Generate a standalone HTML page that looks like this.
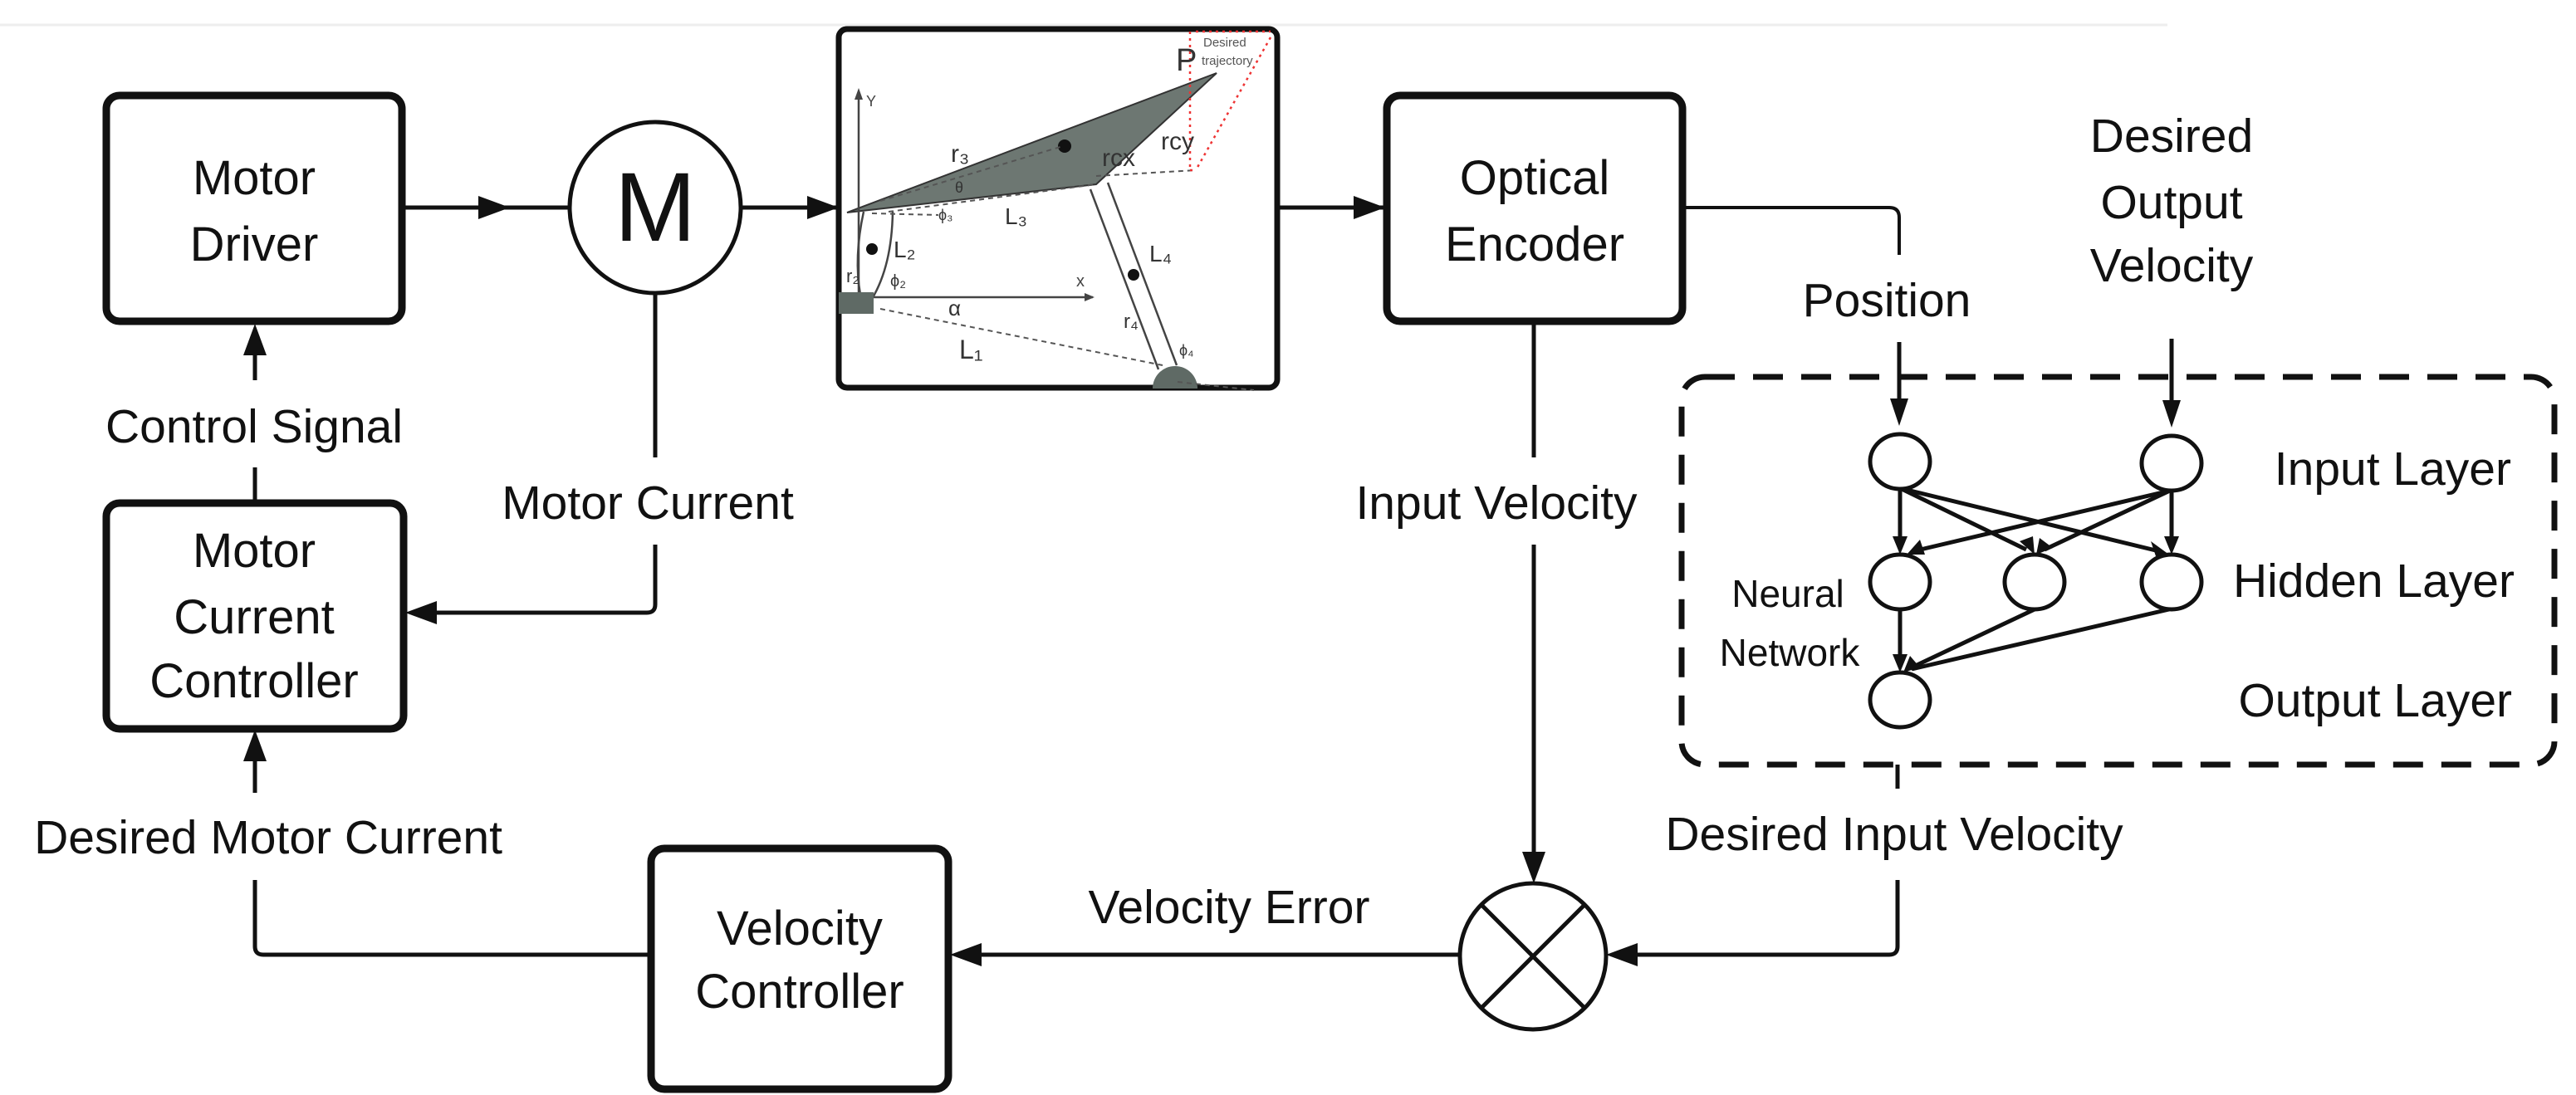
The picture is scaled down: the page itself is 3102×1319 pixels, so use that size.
<!DOCTYPE html>
<html><head><meta charset="utf-8"><style>
html,body{margin:0;padding:0;background:#fff;}
svg{display:block;}
text{font-family:"Liberation Sans",sans-serif;fill:#111;}
</style></head><body>
<svg width="3102" height="1319" viewBox="0 0 3102 1319" xmlns="http://www.w3.org/2000/svg">
<line x1="0" y1="30" x2="2610" y2="30" stroke="#eee" stroke-width="3"/>

<g fill="none" stroke="#111" stroke-width="9">
<rect x="128" y="115" width="356" height="272" rx="16"/>
<rect x="128" y="606" width="358" height="272" rx="16"/>
<rect x="1670" y="115" width="356" height="272" rx="16"/>
<rect x="784" y="1022" width="358" height="290" rx="16"/>
</g>
<rect x="1010" y="35" width="528" height="432" rx="10" fill="none" stroke="#111" stroke-width="7"/>

<g stroke="#111" stroke-width="5" fill="none">
<circle cx="789" cy="250" r="103"/>
<circle cx="1846" cy="1152" r="88"/>
<line x1="1784" y1="1090" x2="1908" y2="1214"/>
<line x1="1908" y1="1090" x2="1784" y2="1214"/>
<line x1="484" y1="250" x2="686" y2="250"/>
<line x1="892" y1="250" x2="1010" y2="250"/>
<line x1="1538" y1="250" x2="1668" y2="250"/>
<path d="M2026 250 H2275 Q2287 250 2287 262 V307" stroke-width="4"/>
<line x1="2287" y1="412" x2="2287" y2="500"/>
<line x1="2615" y1="408" x2="2615" y2="500"/>
<line x1="307" y1="563" x2="307" y2="606"/>
<line x1="307" y1="458" x2="307" y2="400"/>
<path d="M789 353 V551"/>
<path d="M789 656 V728 Q789 738 779 738 H500"/>
<line x1="307" y1="955" x2="307" y2="890"/>
<path d="M307 1060 V1140 Q307 1150 317 1150 H784"/>
<line x1="1847" y1="387" x2="1847" y2="551"/>
<line x1="1847" y1="656" x2="1847" y2="1050"/>
<line x1="1758" y1="1150" x2="1158" y2="1150"/>
<line x1="2285" y1="921" x2="2285" y2="950"/>
<path d="M2285 1060 V1140 Q2285 1150 2275 1150 H1948"/>
</g>
<g fill="#111">
<polygon points="614,250 576,236 576,264"/>
<polygon points="1010,250 972,236 972,264"/>
<polygon points="1668,250 1630,236 1630,264"/>
<polygon points="307,390 293,428 321,428"/>
<polygon points="488,738 526,724 526,752"/>
<polygon points="307,879 293,917 321,917"/>
<polygon points="1847,1064 1833,1026 1861,1026"/>
<polygon points="1144,1150 1182,1136 1182,1164"/>
<polygon points="1934,1150 1972,1136 1972,1164"/>
<polygon points="2287,513 2276,480 2298,480"/>
<polygon points="2615,515 2604,482 2626,482"/>
</g>

<rect x="2025" y="454" width="1051" height="467" rx="28" fill="none" stroke="#111" stroke-width="7" stroke-dasharray="36,22"/>

<g stroke="#111" stroke-width="5" fill="none">
<ellipse cx="2288" cy="556" rx="36" ry="33"/>
<ellipse cx="2615" cy="558" rx="36" ry="33"/>
<ellipse cx="2288" cy="701" rx="36" ry="33"/>
<ellipse cx="2450" cy="701" rx="36" ry="33"/>
<ellipse cx="2615" cy="701" rx="36" ry="33"/>
<ellipse cx="2288" cy="843" rx="36" ry="33"/>
<line x1="2288" y1="589" x2="2288" y2="660"/>
<line x1="2290" y1="589" x2="2440" y2="662"/>
<line x1="2292" y1="589" x2="2600" y2="664"/>
<line x1="2613" y1="591" x2="2304" y2="664"/>
<line x1="2613" y1="591" x2="2462" y2="662"/>
<line x1="2615" y1="591" x2="2615" y2="660"/>
<line x1="2288" y1="734" x2="2288" y2="802"/>
<line x1="2450" y1="734" x2="2300" y2="805"/>
<line x1="2612" y1="734" x2="2302" y2="806"/>
</g>
<g fill="#111">
<polygon points="2288,668 2279,646 2297,646"/>
<polygon points="2450,668 2432,652 2448,646"/>
<polygon points="2612,668 2590,652 2596,670"/>
<polygon points="2296,668 2312,650 2318,668"/>
<polygon points="2452,668 2456,648 2472,660"/>
<polygon points="2615,668 2606,646 2624,646"/>
<polygon points="2288,810 2279,788 2297,788"/>
<polygon points="2292,810 2300,790 2312,804"/>
</g>

<g>
<polygon points="1020,256 1465,88 1320,222" fill="#6d7772" stroke="#333" stroke-width="2"/>
<circle cx="1282" cy="176" r="8" fill="#111"/>
<line x1="1034" y1="358" x2="1034" y2="112" stroke="#444" stroke-width="2.5"/>
<polygon points="1034,106 1029,120 1039,120" fill="#444"/>
<text x="1043" y="128" font-size="18" style="fill:#444">Y</text>
<line x1="1034" y1="358" x2="1316" y2="358" stroke="#444" stroke-width="2.5"/>
<polygon points="1318,358 1306,353 1306,363" fill="#444"/>
<text x="1296" y="345" font-size="20" style="fill:#444">x</text>
<path d="M1040,255 Q1028,310 1036,355 M1075,255 Q1074,320 1050,360" stroke="#444" stroke-width="2.5" fill="none"/>
<circle cx="1050" cy="300" r="7" fill="#111"/>
<path d="M1313,228 L1395,445 M1334,220 L1417,440" stroke="#444" stroke-width="2.5" fill="none"/>
<circle cx="1365" cy="331" r="7" fill="#111"/>
<rect x="1010" y="352" width="42" height="26" fill="#5f6a65"/>
<path d="M1388,468 A27,27 0 0 1 1442,468 Z" fill="#5f6a65"/>
<g stroke="#555" stroke-width="2" stroke-dasharray="6,5" fill="none">
<line x1="1060" y1="372" x2="1400" y2="440"/>
<line x1="1070" y1="255" x2="1320" y2="222"/>
<line x1="1320" y1="212" x2="1440" y2="205"/>
<line x1="1050" y1="257" x2="1130" y2="259"/>
<line x1="1418" y1="460" x2="1510" y2="470"/>
<line x1="1060" y1="242" x2="1280" y2="176"/>
</g>
<g stroke="#e33" stroke-width="2.5" stroke-dasharray="3,5" fill="none">
<line x1="1433" y1="38" x2="1433" y2="205"/>
<line x1="1433" y1="205" x2="1440" y2="205"/>
<line x1="1530" y1="45" x2="1440" y2="205"/>
<line x1="1440" y1="38" x2="1530" y2="38"/>
</g>
<text x="1416" y="85" font-size="38" style="fill:#333">P</text>
<text x="1449" y="56" font-size="15" style="fill:#555">Desired</text>
<text x="1447" y="78" font-size="15" style="fill:#555">trajectory</text>
<text x="1145" y="195" font-size="30" style="fill:#333">r₃</text>
<text x="1327" y="200" font-size="30" style="fill:#333">rcx</text>
<text x="1398" y="180" font-size="30" style="fill:#333">rcy</text>
<text x="1210" y="270" font-size="28" style="fill:#333">L₃</text>
<text x="1076" y="310" font-size="28" style="fill:#333">L₂</text>
<text x="1384" y="315" font-size="28" style="fill:#333">L₄</text>
<text x="1155" y="432" font-size="32" style="fill:#333">L₁</text>
<text x="1142" y="380" font-size="26" style="fill:#333">α</text>
<text x="1353" y="395" font-size="24" style="fill:#333">r₄</text>
<text x="1019" y="340" font-size="22" style="fill:#333">r₂</text>
<text x="1072" y="345" font-size="20" style="fill:#333">ϕ₂</text>
<text x="1130" y="265" font-size="18" style="fill:#333">ϕ₃</text>
<text x="1420" y="428" font-size="18" style="fill:#333">ϕ₄</text>
<text x="1150" y="232" font-size="18" style="fill:#333">θ</text>
</g>

<g font-size="58" text-anchor="middle">
<text x="306" y="234">Motor</text>
<text x="306" y="314">Driver</text>
<text x="306" y="683">Motor</text>
<text x="306" y="763">Current</text>
<text x="306" y="840">Controller</text>
<text x="1848" y="234">Optical</text>
<text x="1848" y="314">Encoder</text>
<text x="963" y="1138">Velocity</text>
<text x="963" y="1214">Controller</text>
</g>
<text x="789" y="290" font-size="118" text-anchor="middle">M</text>

<g font-size="57" text-anchor="middle">
<text x="306" y="533">Control Signal</text>
<text x="780" y="625">Motor Current</text>
<text x="323" y="1028">Desired Motor Current</text>
<text x="1802" y="625">Input Velocity</text>
<text x="1480" y="1112">Velocity Error</text>
<text x="2281" y="1024">Desired Input Velocity</text>
<text x="2272" y="381">Position</text>
<text x="2615" y="183">Desired</text>
<text x="2615" y="263">Output</text>
<text x="2615" y="339">Velocity</text>
</g>
<g font-size="57" text-anchor="end">
<text x="3024" y="584">Input Layer</text>
<text x="3028" y="719">Hidden Layer</text>
<text x="3025" y="863">Output Layer</text>
</g>
<g font-size="46" text-anchor="middle">
<text x="2153" y="731">Neural</text>
<text x="2155" y="802">Network</text>
</g>
</svg>
</body></html>
